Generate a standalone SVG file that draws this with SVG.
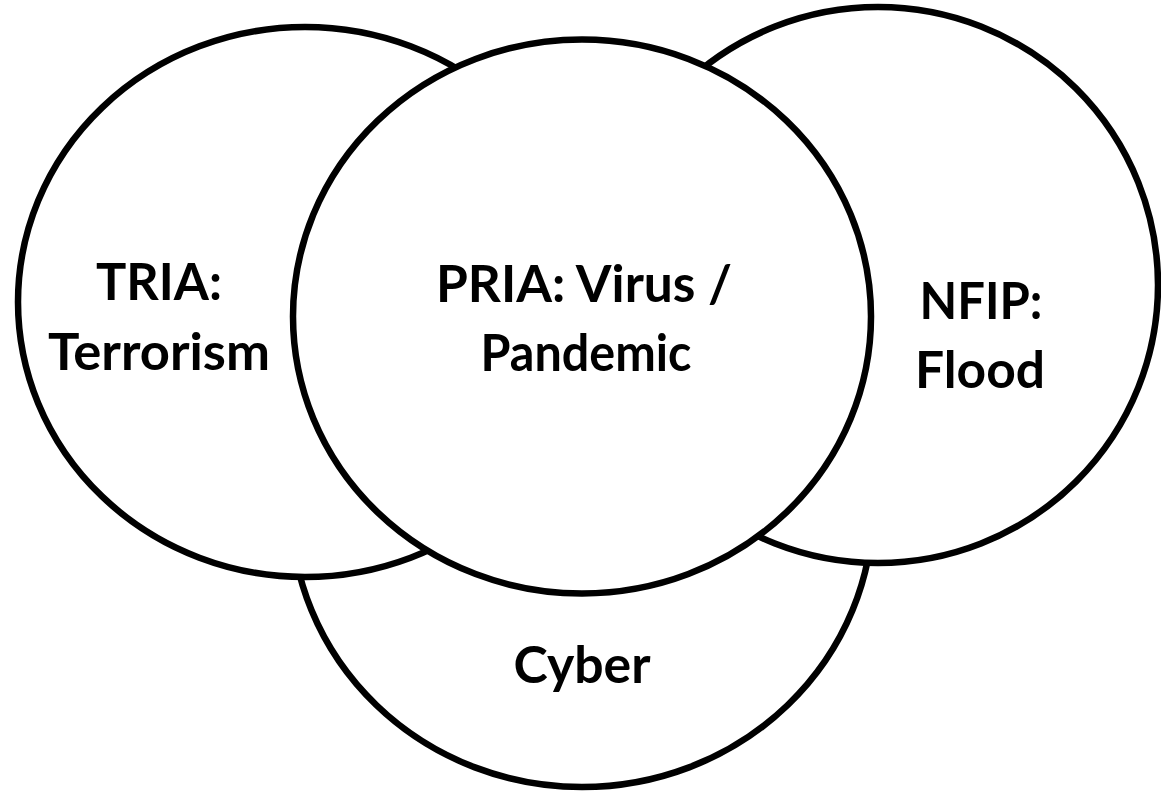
<svg xmlns="http://www.w3.org/2000/svg" width="1161" height="796" viewBox="0 0 1161 796">
<style>
.c{fill:#fff;stroke:#000;stroke-width:6.5}
.t{font-family:Lato,"Open Sans","Liberation Sans",sans-serif;font-weight:bold;font-size:52px;fill:#000;text-anchor:middle}
</style>
<rect width="1161" height="796" fill="#fff"/>
<g id="cyber"><ellipse class="c" cx="582" cy="507" rx="291" ry="280"/></g>
<g id="tria"><ellipse class="c" cx="305" cy="302" rx="287" ry="275"/></g>
<g id="nfip"><ellipse class="c" cx="878" cy="285" rx="280" ry="278"/></g>
<g id="pria"><ellipse class="c" cx="582" cy="316.5" rx="289" ry="277"/></g>
<g id="connectors"></g>
<g id="labels">
<text class="t" x="159" y="300" textLength="126" lengthAdjust="spacingAndGlyphs">TRIA:</text>
<text class="t" x="159" y="370" textLength="222" lengthAdjust="spacingAndGlyphs">Terrorism</text>
<text class="t" x="584" y="302" textLength="296" lengthAdjust="spacingAndGlyphs">PRIA: Virus /</text>
<text class="t" x="586" y="371" textLength="211" lengthAdjust="spacingAndGlyphs">Pandemic</text>
<text class="t" x="981" y="319" textLength="123" lengthAdjust="spacingAndGlyphs">NFIP:</text>
<text class="t" x="980" y="388" textLength="130" lengthAdjust="spacingAndGlyphs">Flood</text>
<text class="t" x="582" y="683" textLength="137" lengthAdjust="spacingAndGlyphs">Cyber</text>
</g>
</svg>
